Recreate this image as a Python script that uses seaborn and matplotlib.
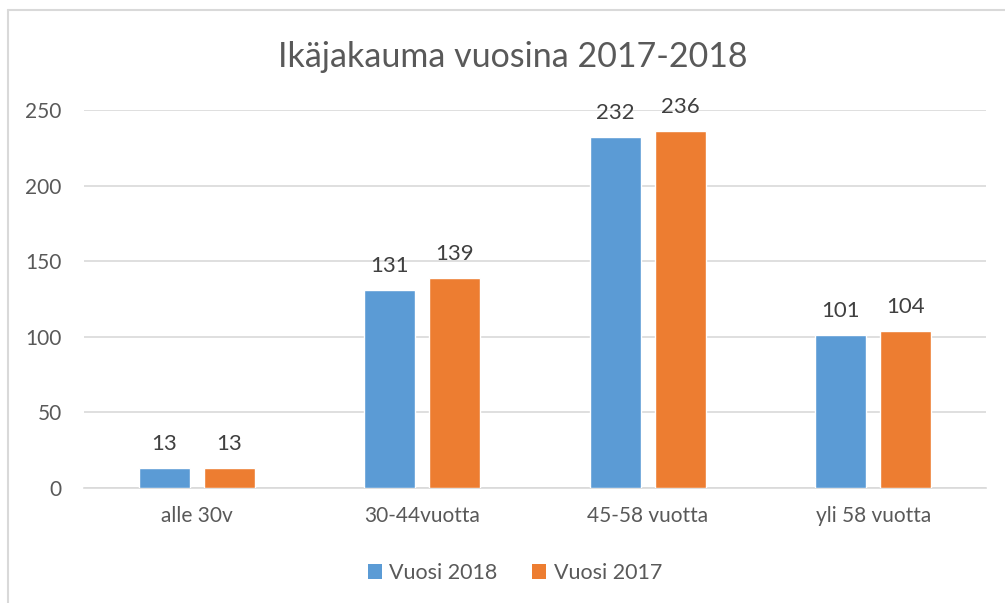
import pandas as pd
import matplotlib.pyplot as plt
import seaborn as sns
from matplotlib.patches import Patch
from matplotlib.lines import Line2D

# data
categories = ["alle 30v", "30-44vuotta", "45-58 vuotta", "yli 58 vuotta"]
series_names = ["Vuosi 2018", "Vuosi 2017"]
values_2018 = [13, 131, 232, 101]
values_2017 = [13, 139, 236, 104]
y_ticks = [0, 50, 100, 150, 200, 250]
title = "Ikäjakauma vuosina 2017-2018"

colors = ["#5B9BD5", "#ED7D31"]
text_gray = "#595959"
grid_gray = "#D9D9D9"

df = pd.DataFrame({
    "Ikä": categories * 2,
    "Vuosi": [series_names[0]] * len(categories) + [series_names[1]] * len(categories),
    "Määrä": values_2018 + values_2017,
})

sns.set_theme(style="white")
plt.rcParams["font.family"] = ["Lato", "DejaVu Sans"]

fig = plt.figure(figsize=(10.05, 6.03), dpi=100)
ax = fig.add_axes([84 / 1005, 1 - 488 / 603, 902 / 1005, 378 / 603])

sns.barplot(data=df, x="Ikä", y="Määrä", hue="Vuosi", order=categories,
            hue_order=series_names, palette=colors, width=0.576, gap=0.215,
            saturation=1, ax=ax, legend=False, zorder=3)

for cont in ax.containers:
    ax.bar_label(cont, fmt="%d", padding=10, fontsize=16, color="#404040")

ax.set_ylim(0, 250)
ax.set_xlim(-0.5, len(categories) - 0.5)
ax.set_yticks(y_ticks)
ax.yaxis.grid(True, color=grid_gray, linewidth=1.2, zorder=0)
ax.set_axisbelow(True)
for side in ["top", "right", "left"]:
    ax.spines[side].set_visible(False)
ax.spines["bottom"].set_color(grid_gray)
ax.spines["bottom"].set_linewidth(1.2)
ax.tick_params(axis="y", length=0, pad=16, labelsize=15, labelcolor=text_gray)
ax.tick_params(axis="x", length=0, pad=13, labelsize=15, labelcolor=text_gray)
ax.set_xlabel("")
ax.set_ylabel("")

fig.text(513 / 1005, 1 - 57 / 603, title, ha="center", va="center",
         fontsize=24.5, color=text_gray)

handles = [Patch(facecolor=c, edgecolor="none") for c in colors]
fig.legend(handles, series_names, loc="center", bbox_to_anchor=(515 / 1005, 1 - 573 / 603),
           ncol=2, frameon=False, fontsize=15.5, labelcolor=text_gray,
           handlelength=0.65, handleheight=0.65, handletextpad=0.35, columnspacing=1.6)

# chart frame (top and left edges visible in the reference)
fig.add_artist(Line2D([8 / 1005, 1], [1 - 10 / 603, 1 - 10 / 603], color=grid_gray,
                      linewidth=1.5, transform=fig.transFigure))
fig.add_artist(Line2D([8 / 1005, 8 / 1005], [0, 1 - 10 / 603], color=grid_gray,
                      linewidth=1.5, transform=fig.transFigure))

fig.savefig("out.png", dpi=100)
plt.close(fig)
